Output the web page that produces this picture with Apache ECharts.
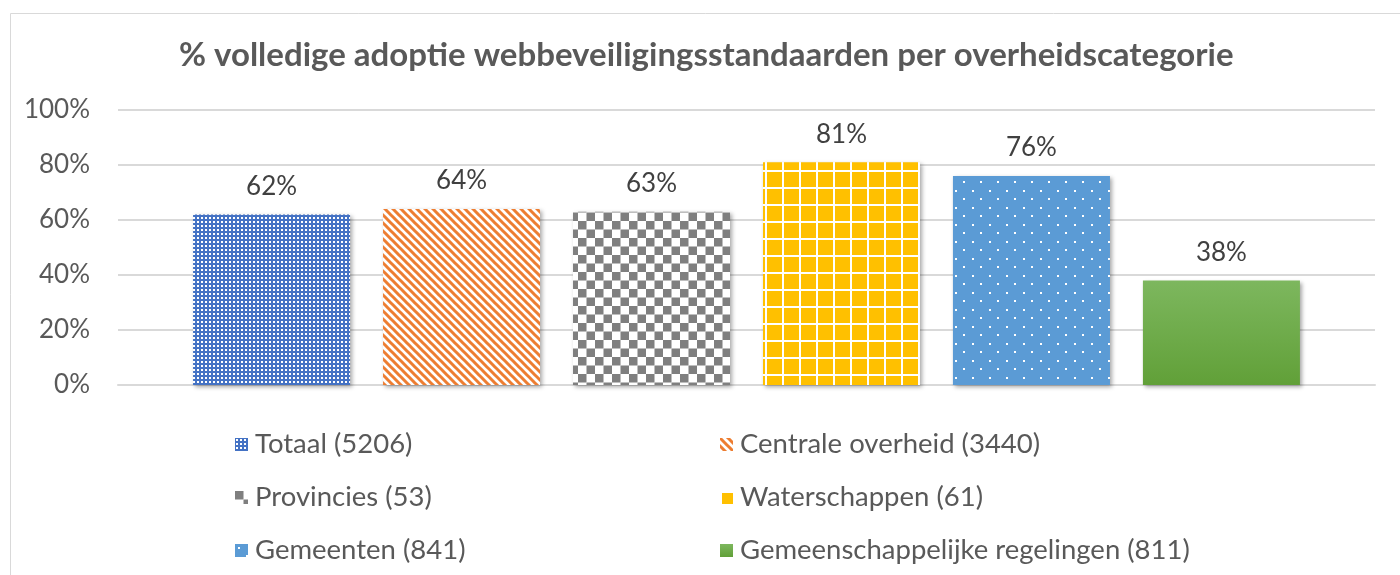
<!DOCTYPE html>
<html>
<head>
<meta charset="utf-8">
<script src="https://cdn.jsdelivr.net/npm/echarts@6/dist/echarts.min.js"></script>
<style>
  html, body { margin: 0; padding: 0; background: #fff; }
  #chart { width: 1400px; height: 575px; }
</style>
</head>
<body>
<div id="chart"></div>
<script>
// data
var categories = ['Totaal (5206)', 'Centrale overheid (3440)', 'Provincies (53)', 'Waterschappen (61)', 'Gemeenten (841)', 'Gemeenschappelijke regelingen (811)'];
var values = [62, 64, 63, 81, 76, 38];
var yTicks = [0, 20, 40, 60, 80, 100];

var fontFam = 'Lato, "Open Sans", sans-serif';

// small canvas tiles for the Excel-like fill patterns
function makePattern(w, h, draw) {
  var c = document.createElement('canvas');
  c.width = w;
  c.height = h;
  var ctx = c.getContext('2d');
  draw(ctx);
  return { image: c, repeat: 'repeat' };
}

var patTotaal = makePattern(4, 4, function (ctx) {
  ctx.fillStyle = '#4472C4';
  ctx.fillRect(0, 0, 4, 4);
  ctx.fillStyle = '#ffffff';
  ctx.fillRect(1, 1, 2, 2);
});

var patCentrale = makePattern(8, 8, function (ctx) {
  ctx.fillStyle = '#ffffff';
  ctx.fillRect(0, 0, 8, 8);
  ctx.strokeStyle = '#ED7D31';
  ctx.lineWidth = 3;
  ctx.beginPath();
  ctx.moveTo(-2, -2); ctx.lineTo(10, 10);
  ctx.moveTo(-10, -2); ctx.lineTo(2, 10);
  ctx.moveTo(6, -2); ctx.lineTo(18, 10);
  ctx.stroke();
});

var patProv = makePattern(17, 17, function (ctx) {
  ctx.fillStyle = '#ffffff';
  ctx.fillRect(0, 0, 17, 17);
  ctx.fillStyle = '#7F7F7F';
  ctx.fillRect(0, 0, 8.5, 8.5);
  ctx.fillRect(8.5, 8.5, 8.5, 8.5);
});

var patWater = makePattern(17, 17, function (ctx) {
  ctx.fillStyle = '#ffffff';
  ctx.fillRect(0, 0, 17, 17);
  ctx.fillStyle = '#FFC000';
  ctx.fillRect(2, 2, 15, 15);
});

var patGem = makePattern(17, 17, function (ctx) {
  ctx.fillStyle = '#5B9BD5';
  ctx.fillRect(0, 0, 17, 17);
  ctx.fillStyle = '#ffffff';
  ctx.fillRect(3, 3, 2, 2);
  ctx.fillRect(11, 11, 2, 2);
});

var gradGreen = new echarts.graphic.LinearGradient(0, 0, 0, 1, [
  { offset: 0, color: '#7DB75E' },
  { offset: 1, color: '#61A038' }
]);

var fills = [patTotaal, patCentrale, patProv, patWater, patGem, gradGreen];

var chart = echarts.init(document.getElementById('chart'));

var series = categories.map(function (name, i) {
  return {
    name: name,
    type: 'bar',
    data: [values[i]],
    barWidth: 157,
    barGap: '21%',
    itemStyle: {
      color: fills[i],
      shadowBlur: 4,
      shadowColor: 'rgba(0,0,0,0.35)',
      shadowOffsetX: 2,
      shadowOffsetY: 2
    },
    label: {
      show: true,
      position: 'top',
      distance: 15,
      formatter: '{c}%',
      fontFamily: fontFam,
      fontSize: 26,
      color: '#404040'
    }
  };
});

var legendText = { fontFamily: fontFam, fontSize: 27.5, color: '#595959', lineHeight: 29, padding: [0, 0, 0, 2] };

var option = {
  animation: false,
  graphic: [{
    type: 'rect',
    left: 8, top: 11,
    shape: { width: 1420, height: 600 },
    style: { fill: 'none', stroke: '#d9d9d9', lineWidth: 1 },
    silent: true
  }],
  title: {
    text: '% volledige adoptie webbeveiligingsstandaarden per overheidscategorie',
    left: 174,
    top: 34,
    textStyle: { fontFamily: fontFam, fontSize: 33, fontWeight: 'bold', color: '#595959' }
  },
  legend: [{
    orient: 'vertical',
    left: 230, top: 425,
    itemWidth: 13, itemHeight: 13,
    itemGap: 24,
    icon: 'rect',
    itemStyle: { shadowBlur: 0, shadowOffsetX: 0, shadowOffsetY: 0 },
    textStyle: legendText,
    data: [categories[0], categories[2], categories[4]]
  }, {
    orient: 'vertical',
    left: 715, top: 425,
    itemWidth: 13, itemHeight: 13,
    itemGap: 24,
    icon: 'rect',
    itemStyle: { shadowBlur: 0, shadowOffsetX: 0, shadowOffsetY: 0 },
    textStyle: legendText,
    data: [categories[1], categories[3], categories[5]]
  }],
  grid: { left: 118, right: 25, top: 110, bottom: 190 },
  xAxis: {
    type: 'category',
    data: [''],
    axisLine: { show: true, lineStyle: { color: '#d9d9d9', width: 2 } },
    axisTick: { show: false },
    axisLabel: { show: false }
  },
  yAxis: {
    type: 'value',
    min: yTicks[0],
    max: yTicks[yTicks.length - 1],
    interval: 20,
    axisLine: { show: false },
    axisTick: { show: false },
    splitLine: { lineStyle: { color: '#d9d9d9', width: 2 } },
    axisLabel: {
      formatter: '{value}%',
      margin: 28,
      fontFamily: fontFam,
      fontSize: 26,
      color: '#595959'
    }
  },
  series: series
};

chart.setOption(option);

window.addEventListener('resize', function () {
  chart.resize();
});
</script>
</body>
</html>
